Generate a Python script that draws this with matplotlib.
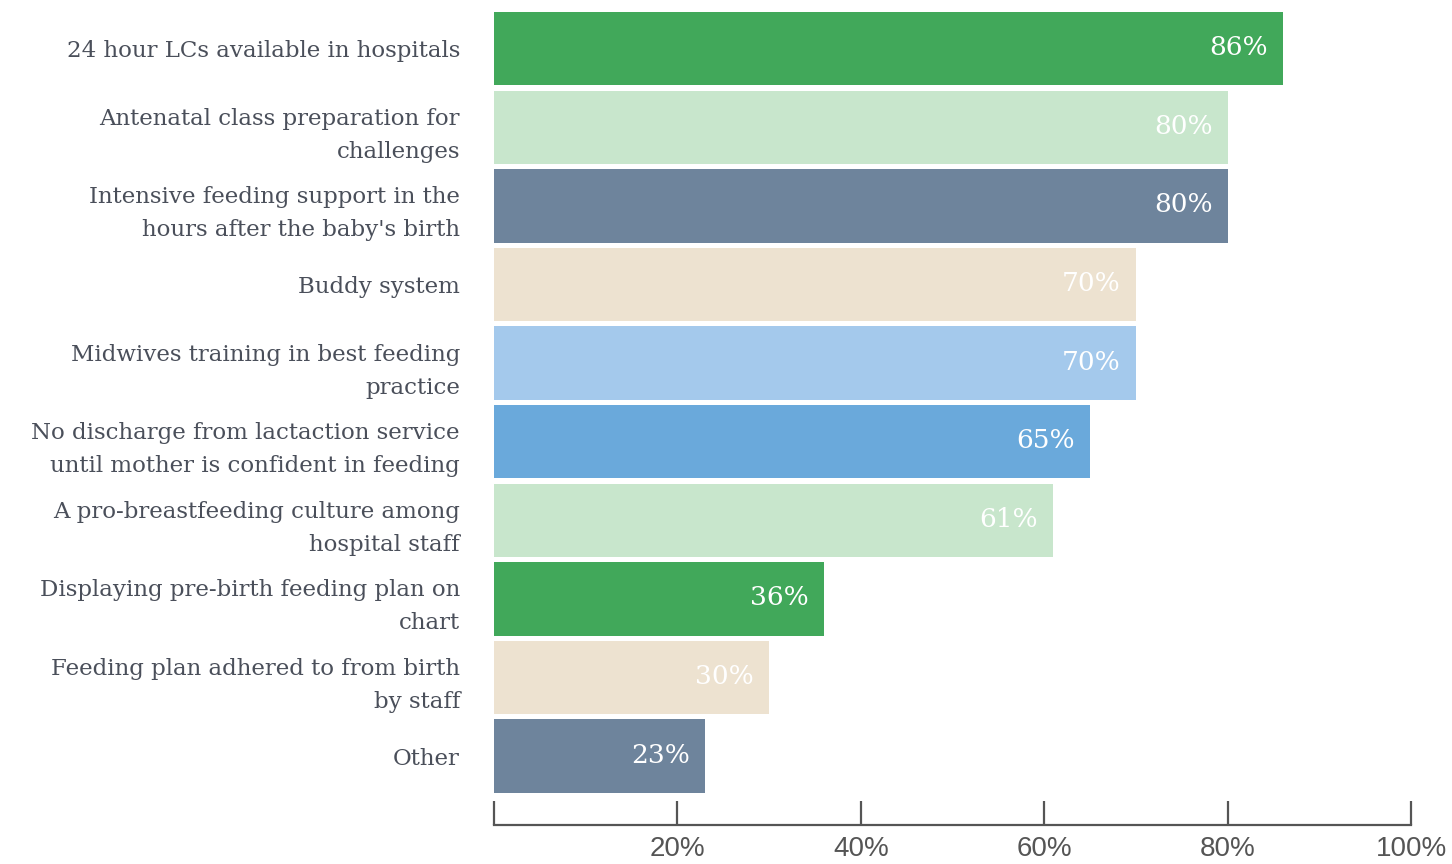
import matplotlib
matplotlib.use("Agg")
import matplotlib.pyplot as plt

categories = [
    "24 hour LCs available in hospitals",
    "Antenatal class preparation for\nchallenges",
    "Intensive feeding support in the\nhours after the baby's birth",
    "Buddy system",
    "Midwives training in best feeding\npractice",
    "No discharge from lactaction service\nuntil mother is confident in feeding",
    "A pro-breastfeeding culture among\nhospital staff",
    "Displaying pre-birth feeding plan on\nchart",
    "Feeding plan adhered to from birth\nby staff",
    "Other",
]
values = [86, 80, 80, 70, 70, 65, 61, 36, 30, 23]
colors = ["#41a85a", "#c8e6cc", "#6e849c", "#ede2d0", "#a4c9ec",
          "#6aa9db", "#c8e6cc", "#41a85a", "#ede2d0", "#6e849c"]
tick_values = [0, 20, 40, 60, 80, 100]
tick_labels = ["", "20%", "40%", "60%", "80%", "100%"]

serif = "DejaVu Serif"
sans = "Liberation Sans"

W, H = 1452, 864
fig = plt.figure(figsize=(W / 100, H / 100), dpi=100)
left, right, top, bottom = 494, 1411, 12, 825
ax = fig.add_axes([left / W, 1 - bottom / H, (right - left) / W, (bottom - top) / H])

bar_h = 0.935
pos = list(range(len(categories)))
ax.barh(pos, values, height=bar_h, color=colors, edgecolor="none")

ax.set_xlim(0, 100)
ax.set_ylim(9.877, -bar_h / 2)

for y, v in zip(pos, values):
    ax.annotate(f"{v}%", xy=(v, y), xytext=(-15, 1), textcoords="offset pixels",
                ha="right", va="center", color="white", fontsize=19, family=serif)

ax.set_yticks(pos)
ax.set_yticklabels(categories, family=serif, fontsize=16.5, color="#4a4f5a",
                   linespacing=1.65)
ax.tick_params(axis="y", length=0, pad=24.5)

ax.set_xticks(tick_values)
ax.set_xticklabels(tick_labels, family=sans, fontsize=20, color="#555555")
ax.tick_params(axis="x", direction="in", length=17, width=1.6, color="#555555", pad=8)

for s in ["top", "right", "left"]:
    ax.spines[s].set_visible(False)
ax.spines["bottom"].set_color("#555555")
ax.spines["bottom"].set_linewidth(1.6)

fig.savefig("out.png", dpi=100)
